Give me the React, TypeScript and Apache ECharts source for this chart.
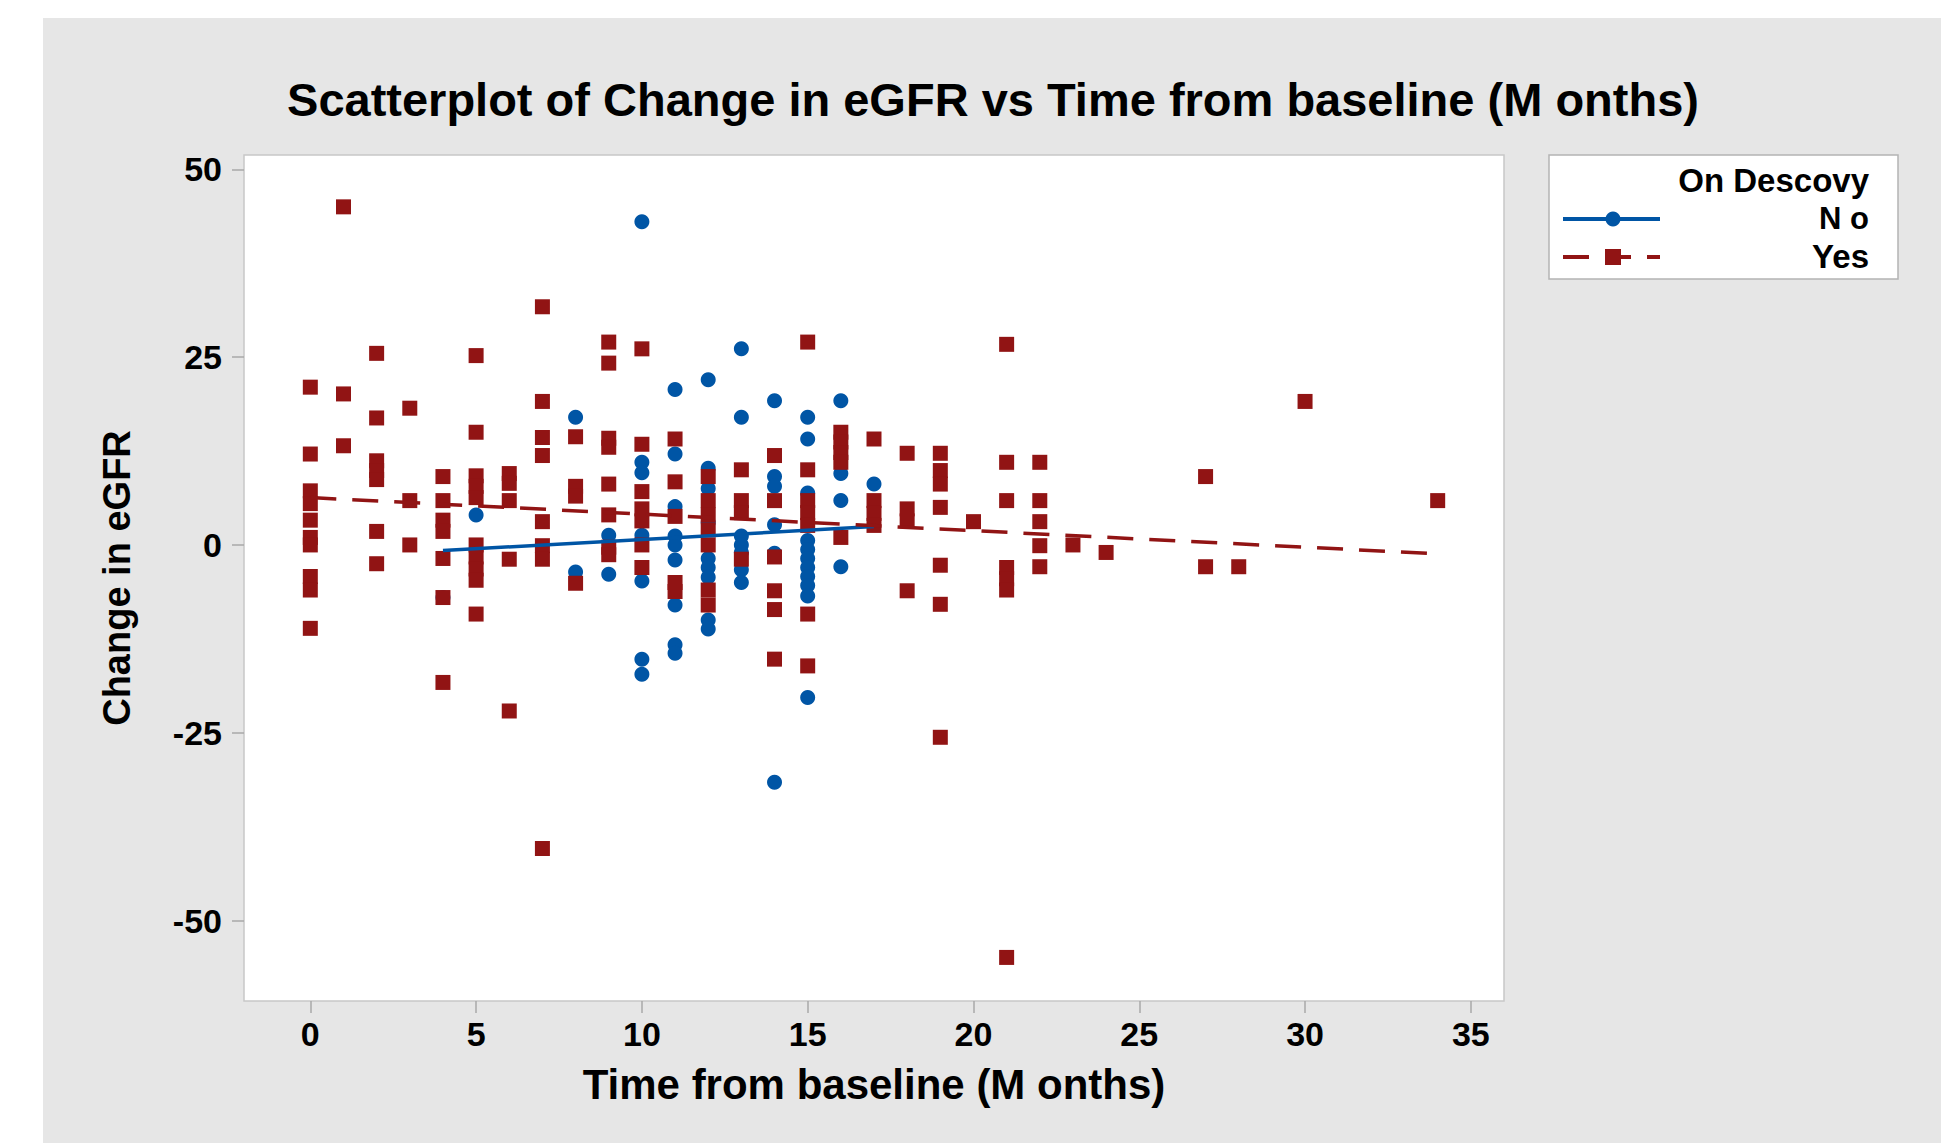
import React, { useEffect, useRef } from "react";
import * as echarts from "echarts";

const titleText = "Scatterplot of Change in eGFR vs Time from baseline (M onths)";
const xAxisTitle = "Time from baseline (M onths)";
const yAxisTitle = "Change in eGFR";
const legendTitle = "On Descovy";
const groupNames = ["N o", "Yes"];

const xTicks = [0, 5, 10, 15, 20, 25, 30, 35];
const yTicks = [-50, -25, 0, 25, 50];

// On Descovy = No (blue circles): [month, change]
const noPoints: [number, number][] = [
  [4, -7], [5, 4], [8, 17], [8, -3.6], [9, 1.3], [9, -3.9],
  [10, 43], [10, 11], [10, 9.6], [10, 1.3], [10, -4.8], [10, -15.2], [10, -17.2],
  [11, 20.7], [11, 12.1], [11, 5.1], [11, 1.2], [11, 0], [11, -2], [11, -8], [11, -13.3], [11, -14.4],
  [12, 22], [12, 10.2], [12, 7.5], [12, 3], [12, -1.8], [12, -3], [12, -4.3], [12, -10], [12, -11.2],
  [13, 26.1], [13, 17], [13, 1.2], [13, 0], [13, -1], [13, -3.3], [13, -5],
  [14, 19.2], [14, 9.1], [14, 7.8], [14, 2.7], [14, -1.1], [14, -31.6],
  [15, 17], [15, 14.1], [15, 6.9], [15, 0.6], [15, -0.6], [15, -1.8], [15, -3], [15, -4.2], [15, -5.4], [15, -6.8], [15, -20.3],
  [16, 19.2], [16, 9.5], [16, 5.9], [16, -2.9],
  [17, 8.1],
];

// On Descovy = Yes (red squares): [month, change]
const yesPoints: [number, number][] = [
  [0, 21], [0, 12.1], [0, 7.2], [0, 5.5], [0, 3.3], [0, 1], [0, 0], [0, -4.2], [0, -6], [0, -11.1],
  [1, 45], [1, 20.1], [1, 13.2],
  [2, 25.5], [2, 16.9], [2, 11.2], [2, 9.9], [2, 8.7], [2, 1.8], [2, -2.5],
  [3, 18.2], [3, 5.9], [3, 0],
  [4, 9.1], [4, 5.9], [4, 3.3], [4, 1.8], [4, -1.8], [4, -7], [4, -18.3],
  [5, 25.2], [5, 15], [5, 9.2], [5, 7.8], [5, 6.3], [5, 0], [5, -1.6], [5, -3.2], [5, -4.7], [5, -9.2],
  [6, 9.5], [6, 8.2], [6, 5.9], [6, -1.9], [6, -22.1],
  [7, 31.7], [7, 19.1], [7, 14.3], [7, 11.9], [7, 3.1], [7, -0.1], [7, -1.9], [7, -40.4],
  [8, 14.4], [8, 7.8], [8, 6.5], [8, -5.1],
  [9, 27], [9, 24.2], [9, 14.2], [9, 13], [9, 8.1], [9, 4], [9, -0.3], [9, -1.3],
  [10, 26.1], [10, 13.4], [10, 7.1], [10, 4.8], [10, 3.2], [10, 0], [10, -3],
  [11, 14.1], [11, 8.4], [11, 3.8], [11, -5], [11, -6.2],
  [12, 9.1], [12, 5.9], [12, 4], [12, 2], [12, 0], [12, -6], [12, -8],
  [13, 10], [13, 5.9], [13, 4.3], [13, -1.9],
  [14, 11.9], [14, 5.9], [14, -1.6], [14, -6.1], [14, -8.6], [14, -15.2],
  [15, 27], [15, 10], [15, 5.9], [15, 4.3], [15, 2.6], [15, -9.2], [15, -16.1],
  [16, 15], [16, 13.7], [16, 12.3], [16, 11], [16, 1],
  [17, 14.1], [17, 5.9], [17, 4.2], [17, 2.6],
  [18, 12.2], [18, 4.8], [18, 3.2], [18, -6.1],
  [19, 12.2], [19, 9.9], [19, 8.1], [19, 5], [19, -2.7], [19, -7.9], [19, -25.6],
  [20, 3.1],
  [21, 26.7], [21, 11], [21, 5.9], [21, -3], [21, -4.5], [21, -6], [21, -54.9],
  [22, 11], [22, 5.9], [22, 3.1], [22, -0.1], [22, -2.9],
  [23, 0], [24, -1], [27, 9.1], [27, -2.9], [28, -2.9], [30, 19.1], [34, 5.9],
];

// fitted regression lines
const fitNo: [number, number][] = [[4, -0.75], [17, 2.45]];
const fitYes: [number, number][] = [[0, 6.3], [34, -1.18]];

const BLUE = "#0055a5";
const RED = "#911414";
const FONT = "'Liberation Sans', Arial, sans-serif";

export default function App() {
  const ref = useRef<HTMLDivElement>(null);

  useEffect(() => {
    if (!ref.current) return;
    const chart = echarts.init(ref.current, null, { renderer: "svg" });
    const legX = 1549, legY = 155, legW = 349, legH = 124;
    chart.setOption({
      animation: false,
      backgroundColor: "transparent",
      grid: {
        left: 244, top: 155, width: 1260, height: 846,
        show: true, backgroundColor: "#ffffff", borderColor: "#c8c8c8", borderWidth: 1.5,
        containLabel: false,
      },
      xAxis: {
        type: "value", min: -2, max: 36,
        name: xAxisTitle, nameLocation: "middle", nameGap: 62,
        nameTextStyle: { fontFamily: FONT, fontWeight: "bold", fontSize: 42, color: "#000" },
        axisLine: { show: false, onZero: false },
        axisTick: { show: true, inside: false, length: 12, lineStyle: { color: "#a8a8a8", width: 1.5 }, customValues: xTicks },
        axisLabel: { margin: 16, fontFamily: FONT, fontWeight: "bold", fontSize: 34, color: "#000", customValues: xTicks },
        splitLine: { show: false },
      },
      yAxis: {
        type: "value", min: -60.7, max: 51.9,
        name: yAxisTitle, nameLocation: "middle", nameGap: 108, nameRotate: 90,
        nameTextStyle: { fontFamily: FONT, fontWeight: "bold", fontSize: 38, color: "#000" },
        axisLine: { show: false, onZero: false },
        axisTick: { show: true, inside: false, length: 12, lineStyle: { color: "#a8a8a8", width: 1.5 }, customValues: yTicks },
        axisLabel: { margin: 22, fontFamily: FONT, fontWeight: "bold", fontSize: 34, color: "#000", customValues: yTicks },
        splitLine: { show: false },
      },
      series: [
        {
          name: groupNames[0], type: "scatter", data: noPoints,
          symbol: "circle", symbolSize: 15, itemStyle: { color: BLUE, opacity: 1 },
          emphasis: { disabled: true }, z: 2,
        },
        {
          name: groupNames[1], type: "scatter", data: yesPoints,
          symbol: "rect", symbolSize: 15, itemStyle: { color: RED, opacity: 1 },
          emphasis: { disabled: true }, z: 3,
        },
        {
          name: groupNames[0] + " fit", type: "line", data: fitNo, symbol: "none",
          lineStyle: { color: BLUE, width: 3.5 }, emphasis: { disabled: true }, z: 4,
        },
        {
          name: groupNames[1] + " fit", type: "line", data: fitYes, symbol: "none",
          lineStyle: { color: RED, width: 3.5, type: [26, 16] }, emphasis: { disabled: true }, z: 4,
        },
      ],
      graphic: [
        {
          type: "text", x: 993, y: 99,
          style: { text: titleText, fontFamily: FONT, fontWeight: "bold", fontSize: 47, fill: "#000", align: "center", verticalAlign: "middle" },
        },
        {
          type: "rect", shape: { x: legX, y: legY, width: legW, height: legH },
          style: { fill: "#ffffff", stroke: "#b4b4b4", lineWidth: 1.5 },
        },
        {
          type: "text", x: 1869, y: 180,
          style: { text: legendTitle, fontFamily: FONT, fontWeight: "bold", fontSize: 33, fill: "#000", align: "right", verticalAlign: "middle" },
        },
        {
          type: "line", shape: { x1: 1563, y1: 219, x2: 1660, y2: 219 },
          style: { stroke: BLUE, lineWidth: 4 },
        },
        { type: "circle", shape: { cx: 1613, cy: 219, r: 7.5 }, style: { fill: BLUE } },
        {
          type: "text", x: 1869, y: 218,
          style: { text: groupNames[0], fontFamily: FONT, fontWeight: "bold", fontSize: 31, fill: "#000", align: "right", verticalAlign: "middle" },
        },
        {
          type: "line", shape: { x1: 1563, y1: 257, x2: 1660, y2: 257 },
          style: { stroke: RED, lineWidth: 4, lineDash: [26, 16] },
        },
        { type: "rect", shape: { x: 1605, y: 249, width: 16, height: 16 }, style: { fill: RED } },
        {
          type: "text", x: 1869, y: 256,
          style: { text: groupNames[1], fontFamily: FONT, fontWeight: "bold", fontSize: 33, fill: "#000", align: "right", verticalAlign: "middle" },
        },
      ],
    });
    return () => chart.dispose();
  }, []);

  return (
    <div style={{ position: "absolute", left: 0, top: 0, width: 1941, height: 1143, background: "#ffffff", overflow: "hidden" }}>
      <div style={{ position: "absolute", left: 43, top: 18, right: 0, bottom: 0, background: "#e6e6e6" }} />
      <div ref={ref} style={{ position: "absolute", left: 0, top: 0, width: 1941, height: 1143 }} />
    </div>
  );
}
